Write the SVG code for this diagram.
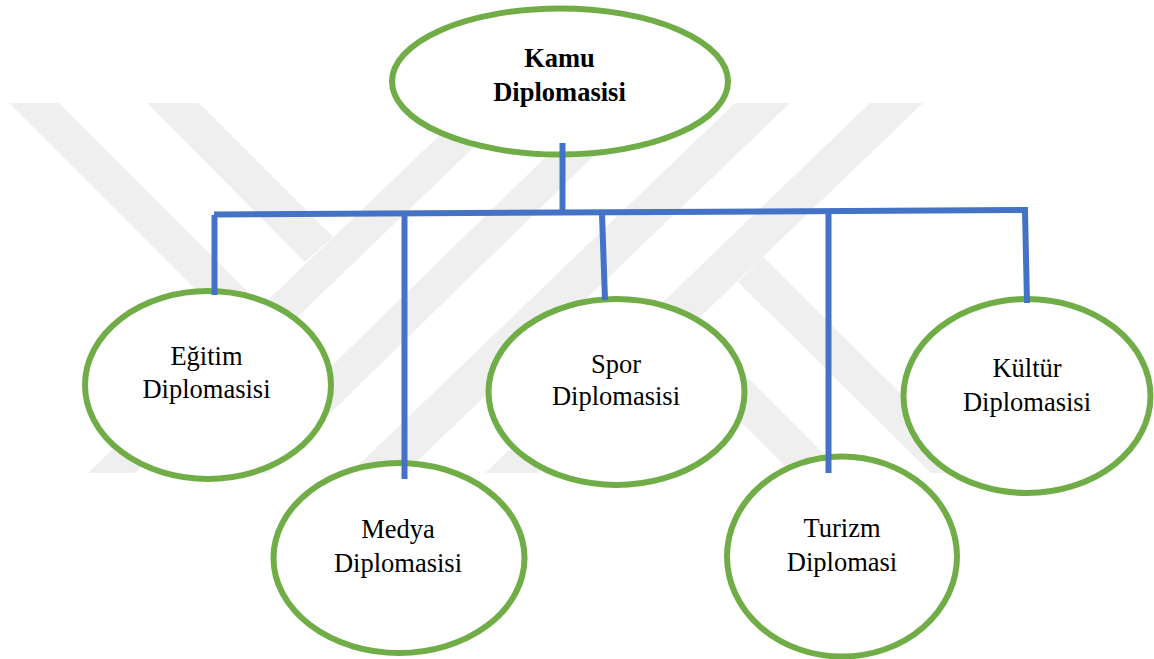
<svg xmlns="http://www.w3.org/2000/svg" width="1154" height="659" viewBox="0 0 1154 659">
<style>
.wm{fill:#efefef}
.node{fill:#fff;stroke:#70ad47;stroke-width:6}
.conn{fill:none;stroke:#4472c4;stroke-width:6}
text{font-family:"Liberation Serif","Times New Roman",serif;font-size:26.5px;fill:#000;text-anchor:middle}
.b{font-weight:bold}
</style>
<rect width="1154" height="659" fill="#fff"/>
<g id="watermark">
<polygon class="wm" points="88,473 473,103 520,103 135,473"/>
<polygon class="wm" points="222,473 601,103 648,103 269,473"/>
<polygon class="wm" points="350,473 735,103 790,103 405,473"/>
<polygon class="wm" points="485,473 870,103 923,103 538,473"/>
<polygon class="wm" points="9,103 59,103 262,306 236,330"/>
<polygon class="wm" points="147,103 199,103 333,237 305,262"/>
<polygon class="wm" points="763,257 981,473 931,473 738,282"/>
<polygon class="wm" points="693,323 843,473 792,473 667,348"/>
</g>
<g id="node-kamu"><ellipse class="node" cx="560" cy="81.5" rx="168" ry="73"/>
<text class="b" x="559.5" y="67">Kamu</text><text class="b" x="559.5" y="101">Diplomasisi</text></g>
<g id="node-egitim"><ellipse class="node" cx="208" cy="385" rx="123" ry="94"/>
<text x="206.5" y="365">Eğitim</text><text x="206.5" y="398">Diplomasisi</text></g>
<g id="node-medya"><ellipse class="node" cx="399" cy="558" rx="125.500" ry="95"/>
<text x="398" y="538">Medya</text><text x="398" y="572">Diplomasisi</text></g>
<g id="node-spor"><ellipse class="node" cx="616.5" cy="392" rx="128" ry="93"/>
<text x="616" y="373">Spor</text><text x="616" y="405">Diplomasisi</text></g>
<g id="node-turizm"><ellipse class="node" cx="842" cy="556.5" rx="115" ry="100"/>
<text x="842" y="537">Turizm</text><text x="842" y="571">Diplomasi</text></g>
<g id="node-kultur"><ellipse class="node" cx="1027" cy="396" rx="123.500" ry="97"/>
<text x="1027" y="377">Kültür</text><text x="1027" y="411">Diplomasisi</text></g>
<g id="connectors">
<path class="conn" d="M562.500 143V212"/>
<path class="conn" d="M214 214.500L1028 210"/>
<path class="conn" d="M214.500 215V295"/>
<path class="conn" d="M404.500 214V479"/>
<path class="conn" d="M602 214L605 300"/>
<path class="conn" d="M828.500 212V473"/>
<path class="conn" d="M1025 211L1027 303"/>
</g>
</svg>
